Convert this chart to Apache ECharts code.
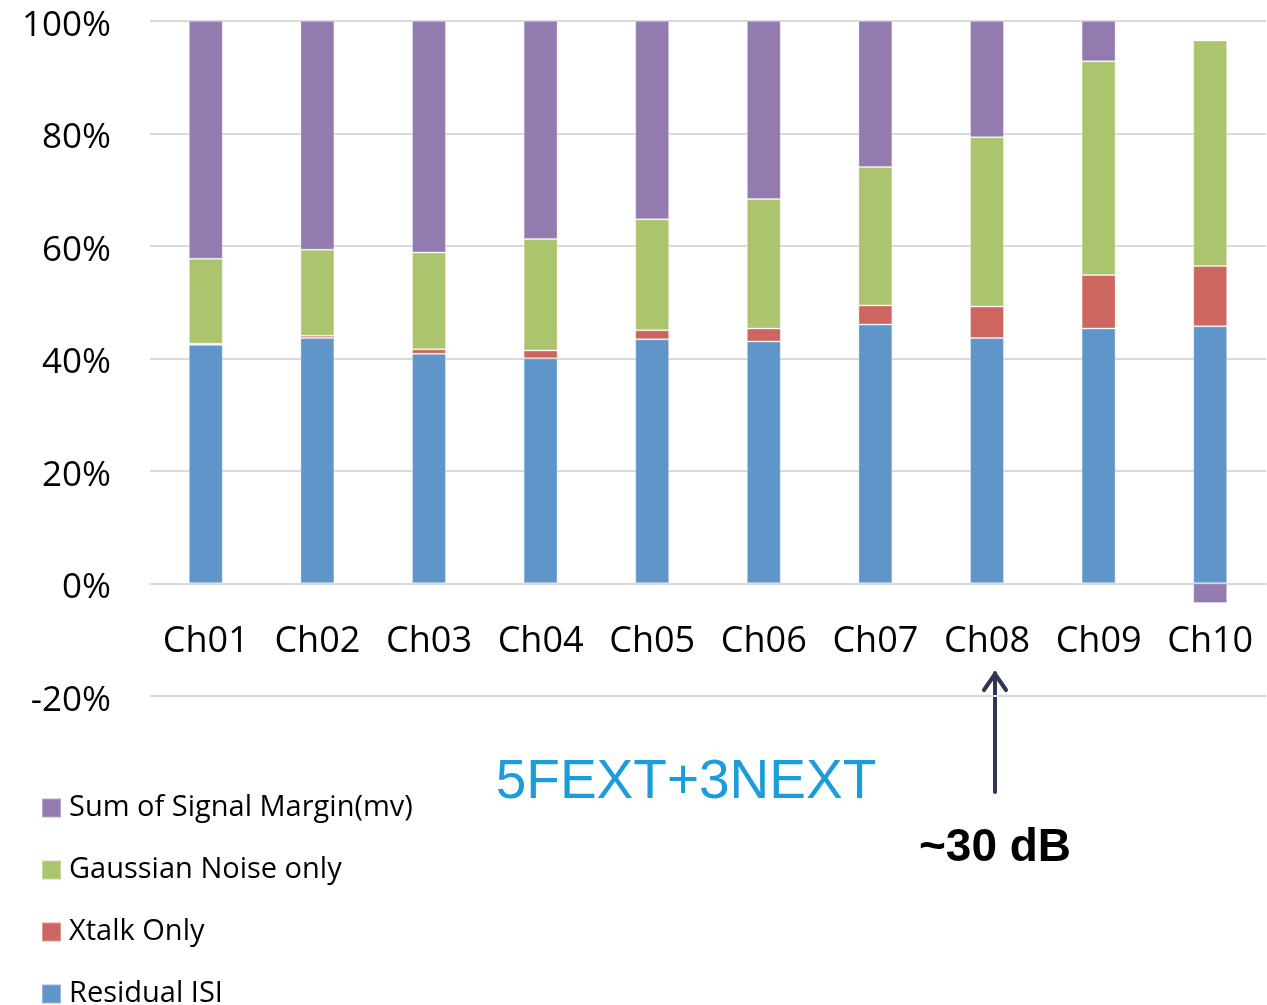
<!DOCTYPE html>
<html>
<head>
<meta charset="utf-8">
<style>
    html, body { margin: 0; padding: 0; background: #fff; }
    #chart { width: 1267px; height: 1005px; }
</style>
<script src="https://cdn.jsdelivr.net/npm/echarts@6/dist/echarts.min.js"></script>
</head>
<body>
<div id="chart"></div>
<script>
// data, in percent
const categories = ['Ch01', 'Ch02', 'Ch03', 'Ch04', 'Ch05', 'Ch06', 'Ch07', 'Ch08', 'Ch09', 'Ch10'];
const residualIsi = [42.4, 43.6, 40.8, 40.0, 43.4, 43.0, 46.0, 43.6, 45.3, 45.7];
const xtalkOnly = [0.2, 0.4, 0.8, 1.4, 1.6, 2.3, 3.4, 5.6, 9.5, 10.7];
const gaussianNoise = [15.1, 15.3, 17.2, 19.8, 19.7, 23.0, 24.6, 30.1, 38.0, 40.1];
const signalMargin = [42.3, 40.7, 41.2, 38.8, 35.3, 31.7, 26.0, 20.7, 7.2, -3.5];

const yTicks = { min: -20, max: 100, interval: 20 };

const colors = {
    isi: '#6095c9',
    xtalk: '#cd665f',
    gauss: '#abc46d',
    margin: '#937bb0'
};

const labelFont = '"Open Sans", "Noto Sans", sans-serif';

function barSeries(name, values, color) {
    return {
        name: name,
        type: 'bar',
        stack: 'total',
        barWidth: 34,
        itemStyle: {
            color: color,
            borderColor: 'rgba(255,255,255,0.35)',
            borderWidth: 1
        },
        data: values
    };
}

const chart = echarts.init(document.getElementById('chart'));

chart.setOption({
    animation: false,
    grid: {
        left: 150,
        right: 1,
        top: 20.8,
        bottom: 309.2,
        containLabel: false
    },
    legend: {
        orient: 'vertical',
        left: 41,
        top: 793.5,
        height: 260,
        padding: 0,
        itemWidth: 19,
        itemHeight: 19,
        itemGap: 33,
        icon: 'rect',
        textStyle: {
            fontFamily: labelFont,
            fontSize: 29,
            color: '#000',
            padding: [0, 0, 0, 3]
        },
        data: ['Sum of Signal Margin(mv)', 'Gaussian Noise only', 'Xtalk Only', 'Residual ISI']
    },
    xAxis: {
        type: 'category',
        data: categories,
        position: 'bottom',
        // the axis sits on the 0% line, one step above the grid bottom
        offset: -112.5,
        axisLine: {
            onZero: false,
            lineStyle: { color: '#d9d9d9', width: 2 }
        },
        axisTick: { show: false },
        axisLabel: {
            interval: 0,
            fontFamily: labelFont,
            fontSize: 36,
            color: '#000',
            margin: 40
        }
    },
    yAxis: {
        type: 'value',
        min: yTicks.min,
        max: yTicks.max,
        interval: yTicks.interval,
        axisLine: { show: false },
        axisTick: { show: false },
        splitLine: {
            lineStyle: { color: '#d9d9d9', width: 2 }
        },
        axisLabel: {
            color: '#000',
            margin: 39,
            formatter: '{t|{value}%}',
            rich: {
                t: {
                    fontFamily: labelFont,
                    fontSize: 35,
                    color: '#000',
                    padding: [10, 0, 0, 0]
                }
            }
        }
    },
    series: [
        barSeries('Residual ISI', residualIsi, colors.isi),
        barSeries('Xtalk Only', xtalkOnly, colors.xtalk),
        barSeries('Gaussian Noise only', gaussianNoise, colors.gauss),
        barSeries('Sum of Signal Margin(mv)', signalMargin, colors.margin)
    ],
    graphic: [
        {
            type: 'text',
            style: {
                text: '5FEXT+3NEXT',
                font: '55px "Liberation Sans", Arial, sans-serif',
                fill: '#1b9ddb',
                x: 686,
                y: 783,
                align: 'center',
                verticalAlign: 'middle'
            }
        },
        {
            type: 'text',
            style: {
                text: '~30 dB',
                font: 'bold 46px "Liberation Sans", Arial, sans-serif',
                fill: '#000',
                x: 995,
                y: 848,
                align: 'center',
                verticalAlign: 'middle'
            }
        },
        // arrow pointing at Ch08
        {
            type: 'polyline',
            shape: { points: [[995, 792], [995, 673]] },
            style: { stroke: '#2f3555', lineWidth: 4, lineCap: 'round' }
        },
        {
            type: 'polyline',
            shape: { points: [[984, 690], [995, 674], [1006, 690]] },
            style: { stroke: '#2f3555', lineWidth: 4, lineCap: 'round', lineJoin: 'round', fill: null }
        }
    ]
});
</script>
</body>
</html>
